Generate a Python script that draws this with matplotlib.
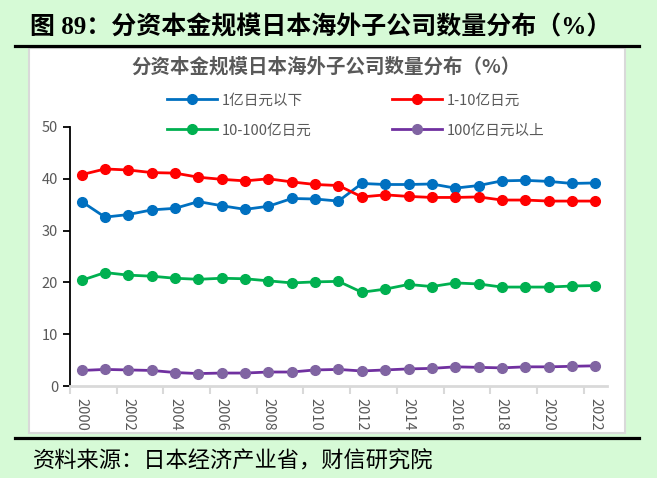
import matplotlib
matplotlib.use('Agg')
import matplotlib.pyplot as plt
from matplotlib.patches import Rectangle
from matplotlib.lines import Line2D

plt.rcParams['font.family'] = ['Noto Sans CJK SC', 'DejaVu Sans']

years = list(range(2000, 2023))
below_1 = [35.6, 32.6, 33.1, 34.0, 34.3, 35.6, 34.8, 34.1, 34.7, 36.2, 36.1, 35.7,
           39.1, 38.9, 38.9, 39.0, 38.2, 38.7, 39.6, 39.7, 39.5, 39.1, 39.2]
from_1_10 = [40.8, 41.9, 41.7, 41.2, 41.1, 40.3, 39.9, 39.6, 40.0, 39.4, 38.9, 38.7,
             36.5, 36.9, 36.6, 36.4, 36.4, 36.5, 35.9, 35.9, 35.7, 35.7, 35.7]
from_10_100 = [20.4, 21.9, 21.4, 21.2, 20.8, 20.6, 20.8, 20.7, 20.3, 19.9, 20.1, 20.2,
               18.1, 18.7, 19.6, 19.2, 19.9, 19.7, 19.1, 19.1, 19.1, 19.3, 19.4]
above_100 = [3.0, 3.2, 3.1, 3.0, 2.6, 2.4, 2.5, 2.5, 2.7, 2.7, 3.1, 3.2,
             2.9, 3.1, 3.3, 3.4, 3.7, 3.6, 3.5, 3.7, 3.7, 3.8, 3.9]

labels = ['1亿日元以下', '1-10亿日元', '10-100亿日元', '100亿日元以上']
line_colors = ['#0070C0', '#FF0000', '#00B050', '#7030A0']
marker_colors = ['#0070C0', '#FF0000', '#00B050', '#8064A2']

fig = plt.figure(figsize=(6.57, 4.78), dpi=100)
fig.patch.set_facecolor('#d6fad6')

# white chart panel, kept behind the axes
fig.patches.append(Rectangle((29 / 657, 1 - 433 / 478), 596 / 657, 385 / 478,
                             transform=fig.transFigure, facecolor='white',
                             edgecolor='#d9d9d9', linewidth=1.5, zorder=-5))
# black rules above and below the panel
fig.add_artist(Line2D([15 / 657, 639 / 657], [1 - 46 / 478, 1 - 46 / 478],
                      transform=fig.transFigure, color='black', lw=2.3))
fig.add_artist(Line2D([15 / 657, 639 / 657], [1 - 438 / 478, 1 - 438 / 478],
                      transform=fig.transFigure, color='black', lw=2.3))

fig.text(30 / 657, 1 - 27 / 478, '图 89：分资本金规模日本海外子公司数量分布（%）',
         family=['Liberation Serif', 'Noto Sans CJK SC'], fontweight='bold',
         fontsize=18, va='center', ha='left', color='black')
fig.text(326 / 657, 1 - 67 / 478, '分资本金规模日本海外子公司数量分布（%）',
         fontsize=14, fontweight='bold', color='#595959', ha='center', va='center')
fig.text(33 / 657, 1 - 461 / 478, '资料来源：日本经济产业省，财信研究院',
         fontsize=16, style='italic', color='black', ha='left', va='center')

ax = fig.add_axes([70 / 657, 1 - 386 / 478, 537 / 657, 259 / 478])
ax.set_facecolor('none')

x = list(range(len(years)))
series = [below_1, from_1_10, from_10_100, above_100]
handles = []
for vals, lab, lc, mc in zip(series, labels, line_colors, marker_colors):
    h, = ax.plot(x, vals, color=lc, lw=2, marker='o', markersize=7,
                 markerfacecolor=mc, markeredgecolor=mc, label=lab)
    handles.append(h)

ax.set_xlim(-0.5, 22.5)
ax.set_ylim(0, 50)
ax.set_yticks([0, 10, 20, 30, 40, 50])
ax.tick_params(axis='y', colors='black', labelcolor='#595959', labelsize=10.5,
               length=5, width=1.3, direction='out')

# category ticks sit between years, labels every two years
ax.set_xticks([i - 0.5 for i in range(0, 23, 2)])
ax.set_xticklabels([])
ax.set_xticks(x[::2], minor=True)
ax.set_xticklabels([str(y) for y in years[::2]], minor=True, rotation=-90)
ax.tick_params(axis='x', which='major', colors='#d9d9d9', length=6, width=1.5)
ax.tick_params(axis='x', which='minor', length=0, labelcolor='#595959',
               labelsize=10.5, pad=9)

for side in ['top', 'right']:
    ax.spines[side].set_visible(False)
ax.spines['left'].set_color('black')
ax.spines['left'].set_linewidth(1.3)
ax.spines['bottom'].set_color('#d9d9d9')
ax.spines['bottom'].set_linewidth(2)

# legend fills row by row in the reference, matplotlib fills by column
order = [0, 2, 1, 3]
leg = ax.legend([handles[i] for i in order], [labels[i] for i in order],
                loc='upper left', bbox_to_anchor=(160 / 657, 1 - 86 / 478),
                bbox_transform=fig.transFigure, ncol=2, frameon=False,
                fontsize=10.5, handlelength=3.4, handletextpad=0.35,
                columnspacing=5.5, labelspacing=1.1, borderpad=0)
for t in leg.get_texts():
    t.set_color('#595959')

fig.savefig('out.png', dpi=100, facecolor=fig.get_facecolor())
